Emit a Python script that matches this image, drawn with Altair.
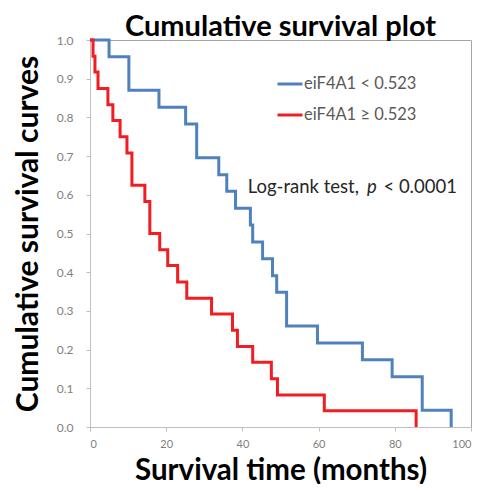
import altair as alt
import pandas as pd

# ---- data ----
groups = ["eiF4A1 < 0.523", "eiF4A1 \u2265 0.523"]
colors = ["#4F81BD", "#F01E23"]

blue_time = [0, 5.0, 10.2, 18.1, 25.1, 28.0, 33.8, 35.9, 38.2, 42.1, 42.7, 45.3,
             47.9, 49.0, 51.6, 59.7, 71.5, 79.3, 87.2, 94.8]
blue_surv = [1.0, 0.957, 0.870, 0.826, 0.783, 0.696, 0.652, 0.609, 0.565, 0.522,
             0.478, 0.435, 0.391, 0.348, 0.261, 0.217, 0.174, 0.130, 0.043, 0.0]

red_time = [0, 0.8, 1.3, 2.1, 4.7, 6.0, 7.9, 9.7, 11.0, 14.4, 15.7, 18.3, 20.4,
            23.0, 25.4, 31.9, 37.4, 38.7, 42.7, 47.6, 49.2, 61.5, 85.6]
red_surv = [1.0, 0.958, 0.917, 0.875, 0.833, 0.792, 0.750, 0.708, 0.625, 0.583,
            0.500, 0.458, 0.417, 0.375, 0.333, 0.292, 0.250, 0.208, 0.167, 0.125,
            0.083, 0.042, 0.0]

x_ticks = [0, 20, 40, 60, 80, 100]
y_ticks = [0.0, 0.1, 0.2, 0.3, 0.4, 0.5, 0.6, 0.7, 0.8, 0.9, 1.0]

note_parts = ["Log-rank test,", "p", "< 0.0001"]
note_x = [41.4, 74.0, 96.3]
note_y = [0.62, 0.62, 0.62]

FONT = "Lato"
NOTE_SIZE = 18.5

rows = []
for t, s in zip(blue_time, blue_surv):
    rows.append({"group": groups[0], "time": t, "survival": s})
for t, s in zip(red_time, red_surv):
    rows.append({"group": groups[1], "time": t, "survival": s})
df = pd.DataFrame(rows)

notes = pd.DataFrame({"text": note_parts, "time": note_x, "survival": note_y})

xscale = alt.Scale(domain=[0, 100], nice=False)
yscale = alt.Scale(domain=[0, 1], nice=False)
xaxis = alt.Axis(values=x_ticks, title="Survival time (months)",
                 tickSize=4, labelPadding=7, labelFontSize=11,
                 titleY=52, titleFontSize=29.5,
                 titleBaseline="alphabetic", labelOverlap=False)
yaxis = alt.Axis(values=y_ticks, format=".1f", tickCount=11,
                 title="Cumulative survival curves",
                 tickSize=4, labelPadding=13, titleX=-62,
                 titleBaseline="middle", labelOverlap=False)

xenc = alt.X("time:Q", scale=xscale, axis=xaxis)
yenc = alt.Y("survival:Q", scale=yscale, axis=yaxis)

lines = alt.Chart(df).mark_line(interpolate="step-after", strokeWidth=3).encode(
    x=xenc,
    y=yenc,
    color=alt.Color("group:N", sort=groups,
                    scale=alt.Scale(domain=groups, range=colors),
                    legend=alt.Legend(orient="none", legendX=186, legendY=30,
                                      title=None, symbolType="stroke",
                                      symbolSize=625, symbolStrokeWidth=3,
                                      labelFont=FONT, labelFontSize=16.5,
                                      labelColor="#595959", rowPadding=8,
                                      labelOffset=0)),
)

base_t = alt.Chart(notes).encode(x=xenc, y=yenc, text="text:N")
t1 = base_t.transform_filter(alt.datum.text == note_parts[0]).mark_text(
    align="left", baseline="middle", font=FONT, fontSize=NOTE_SIZE, color="#262626")
t2 = base_t.transform_filter(alt.datum.text == note_parts[1]).mark_text(
    align="center", baseline="middle", font=FONT, fontSize=NOTE_SIZE,
    fontStyle="italic", color="#262626")
t3 = base_t.transform_filter(alt.datum.text == note_parts[2]).mark_text(
    align="right", baseline="middle", font=FONT, fontSize=NOTE_SIZE, color="#262626")

chart = alt.layer(lines, t1, t2, t3).properties(
    width=381, height=387,
    autosize=alt.AutoSizeParams(type="none"),
    padding={"left": 82, "top": 32, "right": 4, "bottom": 57},
    title=alt.TitleParams("Cumulative survival plot", font=FONT, fontSize=29,
                          fontWeight="bold", color="black", offset=-8,
                          anchor="middle"),
).configure_view(
    stroke="#A6A6A6", strokeWidth=1
).configure_axis(
    grid=False, domainColor="#BFBFBF", tickColor="#BFBFBF",
    labelColor="#7F7F7F", labelFont=FONT, labelFontSize=12,
    titleFont=FONT, titleFontSize=30, titleFontWeight="bold", titleColor="black",
    labelOverlap=False
)

chart.save("out.html", embed_options={"renderer": "svg", "actions": False})
